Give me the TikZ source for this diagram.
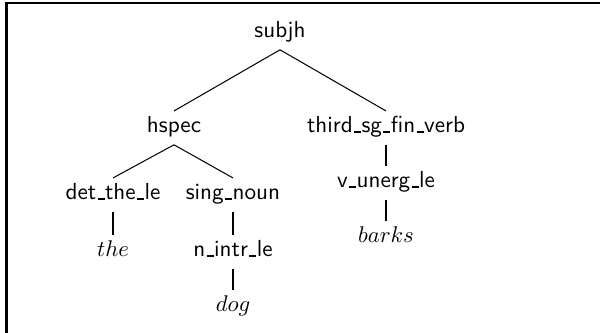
\documentclass[tikz,border=0pt]{standalone}
\newcommand{\usc}{\kern0.06em\rule{0.3em}{0.8pt}\kern0.02em}
\begin{document}
\begin{tikzpicture}[x=0.44pt,y=-0.44pt,
  lbl/.style={font=\fontsize{10.2}{12}\selectfont\sffamily, anchor=base, inner sep=2.5pt, text height=7pt, text depth=2.5pt},
  leaf/.style={lbl, font=\fontsize{10.2}{12}\selectfont},
  br/.style={line width=0.45pt},
  un/.style={line width=1.1pt},
  frame/.style={line width=0.9pt}]
\useasboundingbox (0,0) rectangle (603,333);
\draw[frame] (6.5,333) -- (6.5,3) -- (600,3);
\node[lbl] (s) at (280,38) {subjh};
\node[lbl] (h) at (174,133) {hspec};
\node[lbl] (t) at (386,133) {third\usc sg\usc fin\usc verb};
\node[lbl] (d) at (113,200) {det\usc the\usc le};
\node[lbl] (n) at (233,200) {sing\usc noun};
\node[leaf] (the) at (113,257) {$the$};
\node[lbl] (ni) at (233,257) {n\usc intr\usc le};
\node[leaf] (dog) at (233,312) {$dog$};
\node[lbl] (v) at (386,188) {v\usc unerg\usc le};
\node[leaf] (b) at (386,243) {$barks$};
\draw[br] (s.south) -- (h.north);
\draw[br] (s.south) -- (t.north);
\draw[br] (h.south) -- (d.north);
\draw[br] (h.south) -- (n.north);
\draw[un] (d.south) -- (the.north);
\draw[un] (n.south) -- (ni.north);
\draw[un] (ni.south) -- (dog.north);
\draw[un] (t.south) -- (v.north);
\draw[un] (v.south) -- (b.north);
\end{tikzpicture}
\end{document}
